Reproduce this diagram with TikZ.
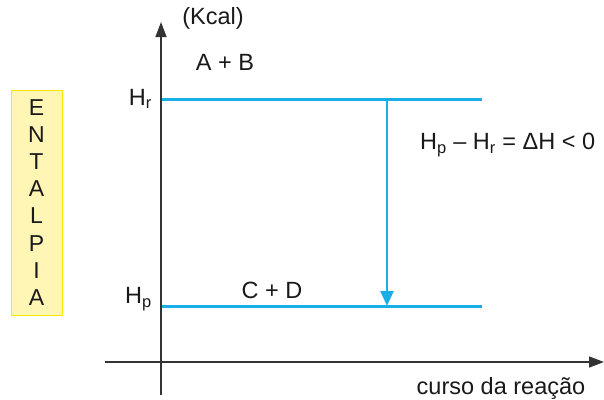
\documentclass[tikz,border=0pt]{standalone}
\usepackage{fontspec}
\setmainfont{Liberation Sans}
\usetikzlibrary{arrows.meta}
\definecolor{lvl}{HTML}{1AAEE8}
\definecolor{axc}{HTML}{333333}
\definecolor{boxfill}{HTML}{FFF6B5}
\definecolor{boxline}{HTML}{FFE600}
\begin{document}
\begin{tikzpicture}[x=1pt,y=-1pt,
  lbl/.style={inner sep=0pt,font=\fontsize{23.5}{28}\selectfont,text=black!90},
  axis/.style={draw=axc,line width=1.4pt,-{Triangle[length=15pt,width=11pt]}},
  level/.style={draw=lvl,line width=3pt},
  drop/.style={draw=lvl,line width=2.4pt,-{Triangle[length=15pt,width=13pt]}},
  ybox/.style={draw=boxline,fill=boxfill,line width=1pt,minimum width=51pt,minimum height=225pt,inner sep=0pt,align=center,font=\fontsize{23}{27.1}\selectfont,text=black!90}]
\useasboundingbox (0,0) rectangle (604,399);
% axes
\coordinate (yb) at (161,395);
\coordinate (yt) at (161,22);
\coordinate (xl) at (105,362);
\coordinate (xr) at (604,362);
\draw[axis] (yb) -- (yt);
\draw[axis] (xl) -- (xr);
% levels
\coordinate (hr0) at (162,99);
\coordinate (hr1) at (482,99);
\coordinate (hp0) at (162,306);
\coordinate (hp1) at (482,306);
\draw[level] (hr0) -- (hr1);
\draw[level] (hp0) -- (hp1);
\coordinate (ds) at (387,99);
\coordinate (de) at (387,306);
\draw[drop] (ds) -- (de);
% labels
\node[lbl] (kcal) at (213,18) {(Kcal)};
\node[lbl] (ab) at (225,62) {A + B};
\node[lbl,anchor=east] (hr) at (152,99) {H\textsubscript{r}};
\node[lbl,anchor=east] (hp) at (152,299) {H\textsubscript{p}};
\node[lbl] (cd) at (272,290) {C + D};
\node[lbl,anchor=west] (eq) at (420,145) {H\textsubscript{p} – H\textsubscript{r} = ΔH < 0};
\node[lbl] (curso) at (501,388) {curso da reação};
\node[ybox] (ent) at (36.5,202.5) {E\\N\\T\\A\\L\\P\\I\\A};
\end{tikzpicture}
\end{document}
